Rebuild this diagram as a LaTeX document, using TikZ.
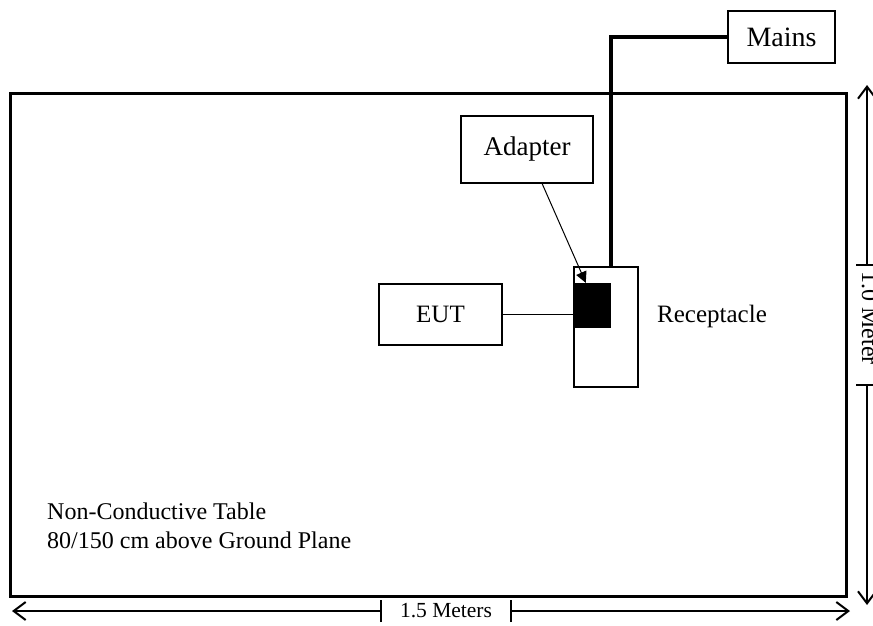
\documentclass[tikz,border=0pt]{standalone}
\usepackage{fontspec}
\setmainfont{Liberation Serif}
\usetikzlibrary{shapes,arrows.meta,positioning,calc}
\tikzstyle{Box} = [draw, rectangle, line width=1.8pt, inner sep=0pt, font=\fontsize{25}{30}\selectfont]
\tikzstyle{Text} = [inner sep=0pt, font=\fontsize{25}{30}\selectfont]
\tikzstyle{Wire} = [line width=4pt]
\tikzstyle{Dim} = [line width=1.2pt, -{Straight Barb[length=12pt,width=18pt,line width=2pt]}]

\begin{document}
\begin{tikzpicture}[x=1pt,y=-1pt]
    \useasboundingbox (0,0) rectangle (873,625);
    \node[draw, line width=3pt, inner sep=0pt, minimum width=836pt, minimum height=503pt] (table) at (428,344.5) {};
    \node[Box, minimum width=107pt, minimum height=52pt, font=\fontsize{28}{32}\selectfont] (mains) at (781.5,37) {Mains};
    \node[Box, minimum width=132pt, minimum height=67pt, font=\fontsize{27}{32}\selectfont] (adapter) at (527,149.5) {Adapter};
    \node[Box, minimum width=123pt, minimum height=61pt] (eut)     at (440.5,314.5) {EUT};
    \node[Box, minimum width=64pt,  minimum height=120pt] (recep)  at (606,327)   {};
    \node[fill=black, inner sep=0pt, minimum width=37pt, minimum height=45pt] (plug) at (592.5,305.5) {};
    \node[Text, anchor=base west] (receplabel) at (657,322) {Receptacle};
    \node[Text, anchor=base west, align=left, font=\fontsize{24}{29}\selectfont] (tablelabel) at (47,548)
        {Non-Conductive Table\\80/150 cm above Ground Plane};
    % cables
    \draw[Wire] (mains.west) -| (plug.east |- recep.north);
    \draw[line width=1.5pt] (eut.east) -- (plug.west |- eut.east);
    \coordinate (adapterout) at ($(adapter.south west)!0.614!(adapter.south east)$);
    \draw[line width=1pt, -{Triangle[length=11pt,width=11pt]}] (adapterout) -- ($(plug.north west)!0.32!(plug.north east)$);
    % 1.0 Meter
    \coordinate (vtop)  at (867,85);
    \coordinate (vbot)  at (867,605);
    \coordinate (vcut1) at (867,265);
    \coordinate (vcut2) at (867,385);
    \draw[Dim] (vcut1) -- (vtop);
    \draw[Dim] (vcut2) -- (vbot);
    \draw[line width=1.2pt] ([xshift=-11pt]vcut1) -- ([xshift=11pt]vcut1);
    \draw[line width=1.2pt] ([xshift=-11pt]vcut2) -- ([xshift=11pt]vcut2);
    \node[Text, rotate=-90, font=\fontsize{24}{28}\selectfont] (vlabel) at (870,318) {1.0 Meter};
    % 1.5 Meters
    \coordinate (hleft)  at (12,611);
    \coordinate (hright) at (850,611);
    \coordinate (hcut1)  at (381,611);
    \coordinate (hcut2)  at (511,611);
    \draw[Dim] (hcut1) -- (hleft);
    \draw[Dim] (hcut2) -- (hright);
    \draw[line width=1.2pt] ([yshift=-11pt]hcut1) -- ([yshift=11pt]hcut1);
    \draw[line width=1.2pt] ([yshift=-11pt]hcut2) -- ([yshift=11pt]hcut2);
    \node[Text, font=\fontsize{21.5}{25}\selectfont] (hlabel) at (446,611) {1.5 Meters};
\end{tikzpicture}
\end{document}
